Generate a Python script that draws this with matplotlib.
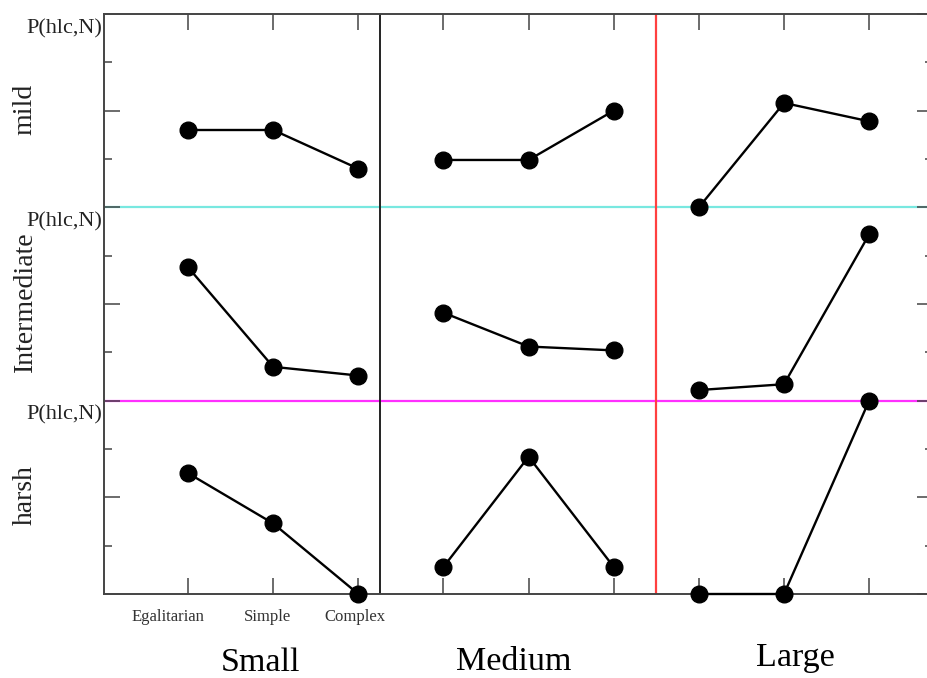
import matplotlib
matplotlib.use('Agg')
import matplotlib.pyplot as plt
from matplotlib.ticker import MultipleLocator

plt.rcParams['font.family'] = ['Liberation Serif', 'DejaVu Serif']

# Group sizes along x, three organisation types inside each group
GROUPS = ['Small', 'Medium', 'Large']
ORGS = ['Egalitarian', 'Simple', 'Complex']

# Rows from top to bottom; values are P(hlc,N) as a fraction of the row height
ROWS = ['mild', 'Intermediate', 'harsh']
MILD = [[0.40, 0.40, 0.20], [0.245, 0.245, 0.50], [0.0, 0.54, 0.445]]
INTERMEDIATE = [[0.69, 0.175, 0.13], [0.455, 0.28, 0.26], [0.055, 0.085, 0.86]]
HARSH = [[0.625, 0.365, 0.0], [0.14, 0.71, 0.14], [0.0, 0.0, 1.0]]
ROW_VALUES = [MILD, INTERMEDIATE, HARSH]

fig = plt.figure(figsize=(9.27, 6.78), dpi=100)
W, H = 927, 678
ax = fig.add_axes([104 / W, (H - 594) / H, (933 - 104) / W, 580 / H])

n_rows = len(ROWS)
for r, vals in enumerate(ROW_VALUES):
    offset = n_rows - 1 - r
    for g, group in enumerate(vals):
        xs = [g * 3 + i + 1 for i in range(len(group))]
        ys = [offset + v for v in group]
        ax.plot(xs, ys, color='black', lw=1.7, marker='o', ms=12,
                clip_on=False, zorder=5)

# dividers between rows and groups
ax.axhline(2, color='#78e8e0', lw=1.6, zorder=1)
ax.axhline(1, color='#ff30ff', lw=1.6, zorder=1)
ax.axvline(3.25, color='#222222', lw=1.4, zorder=1)
ax.axvline(6.5, color='#ff4040', lw=1.6, zorder=1)

ax.set_xlim(0.013, 9.75)
ax.set_ylim(0, 3)

ax.set_xticks(range(1, 10))
ax.set_xticklabels([])
ax.yaxis.set_major_locator(MultipleLocator(0.5))
ax.yaxis.set_minor_locator(MultipleLocator(0.25))
ax.set_yticklabels([])
ax.tick_params(which='major', direction='in', length=11.5, width=1.1,
               color='#444444', top=True, right=True)
ax.tick_params(which='minor', direction='in', length=5.8, width=1.1,
               color='#444444', right=True)
ax.tick_params(axis='x', which='minor', bottom=False, top=False)
for sp in ax.spines.values():
    sp.set_color('#444444')
    sp.set_linewidth(1.4)

# organisation labels under the first group
xt = ax.get_xaxis_transform()
for x, lab in zip([0.765, 1.93, 2.96], ORGS):
    ax.text(x, -0.04, lab, transform=xt, ha='center', va='center',
            fontsize=12, color='#333333')

for x, y, lab in zip([1.85, 4.82, 8.13], [-0.119, -0.117, -0.11], GROUPS):
    ax.text(x, y, lab, transform=xt, ha='center', va='center',
            fontsize=24.5, color='black')

# row labels and per-row axis names
for r, (lab, yc) in enumerate(zip(ROWS, [109, 302, 495])):
    fig.text(25 / W, 1 - yc / H, lab, rotation=90, ha='center', va='center',
             fontsize=20, color='#222222')
    top = n_rows - r
    ax.annotate('P(hlc,N)', xy=(0, top), xycoords=('axes fraction', 'data'),
                xytext=(-1.5, -3.5), textcoords='offset points',
                ha='right', va='top', fontsize=16, color='#222222',
                annotation_clip=False)

fig.savefig('out.png', dpi=100, facecolor='white')
